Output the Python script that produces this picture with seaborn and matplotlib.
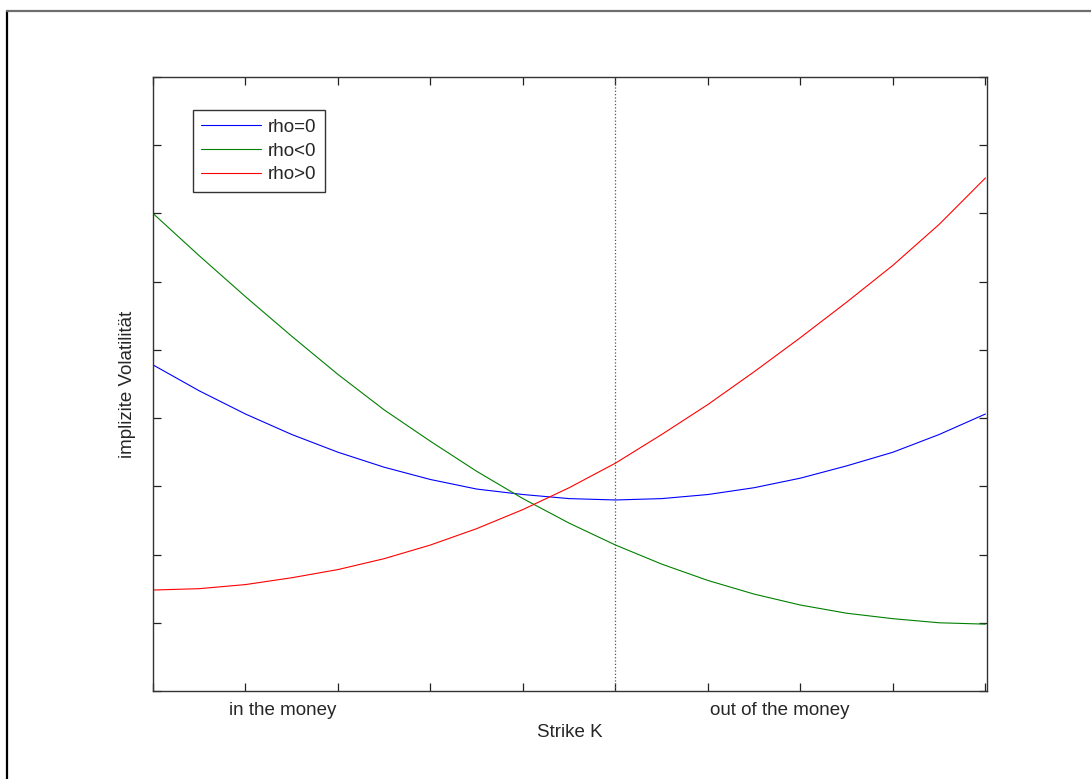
import numpy as np
import pandas as pd
import seaborn as sns
import matplotlib
matplotlib.use("Agg")
import matplotlib.pyplot as plt
from matplotlib.lines import Line2D

# strike (moneyness) grid and implied vols
strike = [0.50, 0.55, 0.60, 0.65, 0.70, 0.75, 0.80, 0.85, 0.90, 0.95,
          1.00, 1.05, 1.10, 1.15, 1.20, 1.25, 1.30, 1.35, 1.40]
vol_rho0 = [0.339, 0.320, 0.303, 0.288, 0.275, 0.264, 0.255, 0.248, 0.244, 0.241,
            0.240, 0.241, 0.244, 0.249, 0.256, 0.265, 0.275, 0.288, 0.303]
vol_rho_neg = [0.450, 0.419, 0.389, 0.360, 0.332, 0.306, 0.283, 0.261, 0.241, 0.223,
               0.207, 0.193, 0.181, 0.171, 0.163, 0.157, 0.153, 0.150, 0.149]
vol_rho_pos = [0.174, 0.175, 0.178, 0.183, 0.189, 0.197, 0.207, 0.219, 0.233, 0.249,
               0.267, 0.288, 0.310, 0.334, 0.359, 0.385, 0.412, 0.442, 0.476]
series_names = ["rho=0", "rho<0", "rho>0"]
series_colors = ["#0000ff", "#008000", "#ff0000"]
x_labels = ["in the money", "out of the money"]
x_label_pos = [0.640, 1.178]

df = pd.DataFrame({
    "strike": strike * 3,
    "vol": vol_rho0 + vol_rho_neg + vol_rho_pos,
    "case": [n for n in series_names for _ in strike],
})

sns.set_theme(style="white")
plt.rcParams["font.family"] = ["Liberation Sans", "DejaVu Sans"]

fig = plt.figure(figsize=(10.91, 7.79), dpi=100)
ax = fig.add_axes([153 / 1091, 1 - 691 / 779, 834 / 1091, 614 / 779])

sns.lineplot(data=df, x="strike", y="vol", hue="case", hue_order=series_names,
             palette=series_colors, linewidth=0.8, ax=ax)

ax.axvline(1.0, color="#555555", linestyle=":", linewidth=0.9)

ax.set_xlim(0.5, 1.4017)
ax.set_ylim(0.10, 0.55)
ax.set_xticks(np.arange(0.5, 1.41, 0.1))
ax.set_yticks(np.arange(0.10, 0.551, 0.05))
ax.set_xticklabels([])
ax.set_yticklabels([])
ax.tick_params(direction="in", length=6, width=0.9, color="#222222",
               top=True, right=True, bottom=True, left=True)
for s in ax.spines.values():
    s.set_color("#333333")
    s.set_linewidth(1.0)
ax.set_xlabel("")
ax.set_ylabel("")

for lab, xp in zip(x_labels, x_label_pos):
    ax.text(xp, -0.031, lab, transform=ax.get_xaxis_transform(),
            ha="center", va="center", fontsize=13.5)
ax.text(0.5, -0.068, "Strike K", transform=ax.transAxes,
        ha="center", va="center", fontsize=13.5)
ax.text(-0.031, 0.5, "implizite Volatilität", transform=ax.transAxes,
        ha="center", va="center", rotation=90, fontsize=13.5)

handles = [Line2D([], [], color=c, linewidth=0.8) for c in series_colors]
leg = ax.legend(handles, series_names, loc="upper left",
                bbox_to_anchor=(0.048, 0.946), borderaxespad=0,
                fontsize=13.5, handlelength=3.2, handletextpad=0.35,
                labelspacing=0.36, borderpad=0.45, fancybox=False,
                framealpha=1)
leg.get_frame().set_edgecolor("#333333")
leg.get_frame().set_linewidth(1.0)

# window frame lines (left and top) like the screenshot
fig.add_artist(Line2D([6.5 / 1091, 6.5 / 1091], [0, 1 - 10.5 / 779],
                      transform=fig.transFigure, color="black", linewidth=1.6))
fig.add_artist(Line2D([6.5 / 1091, 1], [1 - 10.5 / 779, 1 - 10.5 / 779],
                      transform=fig.transFigure, color="#6e6e6e", linewidth=1.6))

fig.savefig("out.png", dpi=100, facecolor="white")
